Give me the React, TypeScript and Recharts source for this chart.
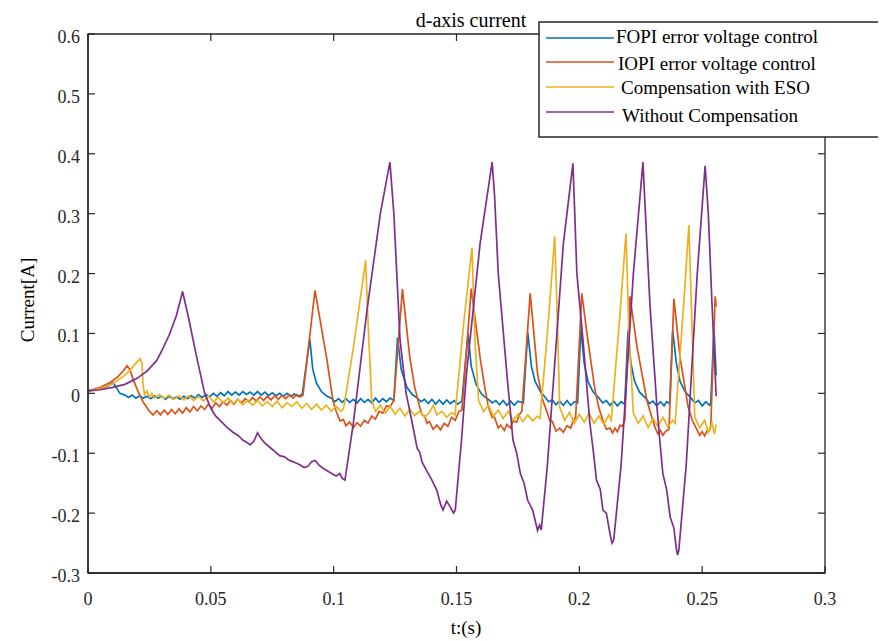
import React from 'react';
import { LineChart, Line, XAxis, YAxis, ReferenceArea } from 'recharts';

// ---- data: [time (s), current (A)] ----
const fopi: [number, number][] = [
  [0, 0.004], [0.004, 0.007], [0.008, 0.012], [0.0102, 0.018], [0.0115, 0.01], [0.013, 0.0],
  [0.015, -0.003], [0.0165, -0.007], [0.018, -0.003], [0.0195, -0.008], [0.021, -0.004], [0.0225, -0.008],
  [0.024, -0.005], [0.0255, -0.009], [0.027, -0.004], [0.0285, -0.008], [0.03, -0.005], [0.0315, -0.01],
  [0.033, -0.005], [0.0345, -0.009], [0.036, -0.006], [0.0375, -0.01], [0.039, -0.005], [0.0405, -0.009],
  [0.042, -0.004], [0.0435, -0.008], [0.045, -0.002], [0.0465, -0.007], [0.048, -0.002], [0.0495, -0.006],
  [0.051, 0.0], [0.0525, -0.005], [0.054, 0.001], [0.0555, -0.004], [0.057, 0.003], [0.0585, -0.003],
  [0.06, 0.002], [0.0615, -0.003], [0.063, 0.003], [0.0645, -0.002], [0.066, 0.002], [0.0675, -0.003],
  [0.069, 0.003], [0.0705, -0.003], [0.072, 0.002], [0.0735, -0.004], [0.075, 0.001], [0.0765, -0.004],
  [0.078, 0.0], [0.0795, -0.005], [0.081, 0.0], [0.0825, -0.005], [0.084, -0.001], [0.0855, -0.005],
  [0.0872, -0.002], [0.0903, 0.09], [0.0915, 0.04], [0.093, 0.017], [0.095, 0.003], [0.097, -0.004],
  [0.099, -0.008], [0.1005, -0.014], [0.102, -0.009], [0.1035, -0.015], [0.105, -0.009], [0.1065, -0.015],
  [0.108, -0.01], [0.1095, -0.016], [0.111, -0.009], [0.1125, -0.015], [0.114, -0.01], [0.1155, -0.016],
  [0.117, -0.008], [0.1185, -0.015], [0.12, -0.009], [0.1215, -0.014], [0.123, -0.008], [0.1245, -0.012],
  [0.126, 0.093], [0.1275, 0.04], [0.1298, 0.01], [0.132, -0.002], [0.134, -0.008], [0.1355, -0.014],
  [0.137, -0.01], [0.1385, -0.017], [0.14, -0.01], [0.1415, -0.018], [0.143, -0.011], [0.1445, -0.018],
  [0.146, -0.011], [0.1475, -0.017], [0.149, -0.012], [0.1505, -0.018], [0.1522, -0.013], [0.1547, 0.1],
  [0.156, 0.045], [0.158, 0.015], [0.16, 0.0], [0.1615, -0.006], [0.163, -0.01], [0.1645, -0.016],
  [0.166, -0.012], [0.1675, -0.019], [0.169, -0.012], [0.1705, -0.02], [0.172, -0.013], [0.1735, -0.02],
  [0.175, -0.013], [0.1772, -0.016], [0.179, 0.102], [0.1805, 0.045], [0.182, 0.02], [0.184, 0.004],
  [0.186, -0.006], [0.1875, -0.014], [0.189, -0.011], [0.1905, -0.019], [0.192, -0.013], [0.1935, -0.02],
  [0.195, -0.012], [0.1965, -0.02], [0.198, -0.014], [0.1993, -0.016], [0.2006, 0.108], [0.202, 0.05],
  [0.2035, 0.02], [0.2055, 0.003], [0.208, -0.008], [0.2095, -0.016], [0.211, -0.012], [0.2125, -0.02],
  [0.214, -0.013], [0.2155, -0.021], [0.217, -0.014], [0.2185, -0.018], [0.2198, 0.105], [0.221, 0.05],
  [0.2225, 0.02], [0.2245, 0.002], [0.227, -0.008], [0.2285, -0.017], [0.23, -0.013], [0.2315, -0.021],
  [0.233, -0.014], [0.2345, -0.021], [0.2355, -0.014], [0.2368, -0.017], [0.238, 0.105], [0.2395, 0.05],
  [0.241, 0.02], [0.243, 0.003], [0.2455, -0.008], [0.247, -0.016], [0.2485, -0.012], [0.25, -0.021],
  [0.2515, -0.014], [0.253, -0.02], [0.2535, -0.016], [0.2548, 0.108], [0.2557, 0.03],
];

const iopi: [number, number][] = [
  [0, 0.004], [0.005, 0.01], [0.009, 0.018], [0.012, 0.027], [0.0145, 0.038], [0.0159, 0.046],
  [0.017, 0.04], [0.0185, 0.022], [0.0204, 0.003], [0.0225, -0.015], [0.025, -0.03], [0.0265, -0.036],
  [0.028, -0.029], [0.0295, -0.036], [0.031, -0.028], [0.0325, -0.035], [0.034, -0.027], [0.0355, -0.034],
  [0.037, -0.026], [0.0385, -0.033], [0.04, -0.024], [0.0415, -0.031], [0.043, -0.022], [0.0445, -0.029],
  [0.046, -0.021], [0.0475, -0.027], [0.049, -0.018], [0.0505, -0.025], [0.052, -0.016], [0.0535, -0.022],
  [0.055, -0.014], [0.0565, -0.02], [0.058, -0.012], [0.0595, -0.018], [0.061, -0.01], [0.0625, -0.016],
  [0.064, -0.009], [0.0655, -0.014], [0.067, -0.007], [0.0685, -0.013], [0.07, -0.006], [0.0715, -0.012],
  [0.073, -0.005], [0.0745, -0.011], [0.076, -0.004], [0.0775, -0.01], [0.079, -0.003], [0.0805, -0.009],
  [0.082, -0.002], [0.0835, -0.008], [0.085, -0.002], [0.0863, -0.006], [0.0875, -0.003], [0.0924, 0.172],
  [0.0973, 0.055], [0.0997, -0.012], [0.101, -0.03], [0.1026, -0.046], [0.104, -0.044], [0.105, -0.054],
  [0.1065, -0.048], [0.108, -0.057], [0.1095, -0.049], [0.111, -0.055], [0.1125, -0.045], [0.114, -0.05],
  [0.1155, -0.038], [0.117, -0.043], [0.1185, -0.03], [0.12, -0.033], [0.1215, -0.021], [0.123, -0.022],
  [0.1245, -0.012], [0.128, 0.174], [0.131, 0.06], [0.133, 0.01], [0.135, -0.023], [0.136, -0.036],
  [0.137, -0.038], [0.138, -0.05], [0.139, -0.047], [0.1405, -0.06], [0.142, -0.053], [0.1435, -0.061],
  [0.145, -0.05], [0.1465, -0.055], [0.148, -0.04], [0.1495, -0.045], [0.151, -0.03], [0.1522, -0.028],
  [0.156, 0.175], [0.1596, 0.06], [0.1615, 0.01], [0.163, -0.023], [0.1645, -0.04], [0.1655, -0.04],
  [0.167, -0.058], [0.168, -0.053], [0.1695, -0.062], [0.1705, -0.052], [0.172, -0.058], [0.173, -0.046],
  [0.1745, -0.048], [0.1755, -0.036], [0.1766, -0.03], [0.18, 0.167], [0.183, 0.033], [0.185, -0.01],
  [0.187, -0.033], [0.188, -0.046], [0.189, -0.047], [0.1905, -0.063], [0.192, -0.058], [0.1935, -0.065],
  [0.195, -0.054], [0.1965, -0.058], [0.1975, -0.046], [0.1985, -0.04], [0.201, 0.167], [0.2035, 0.088],
  [0.2064, 0.005], [0.208, -0.025], [0.2096, -0.045], [0.211, -0.06], [0.2125, -0.058], [0.2135, -0.066],
  [0.2145, -0.058], [0.2155, -0.064], [0.2166, -0.053], [0.2175, -0.055], [0.2185, -0.045], [0.2206, 0.162],
  [0.2235, 0.077], [0.2275, -0.012], [0.2295, -0.04], [0.2308, -0.057], [0.232, -0.068], [0.233, -0.062],
  [0.234, -0.07], [0.235, -0.064], [0.2365, -0.06], [0.2385, 0.158], [0.241, 0.06], [0.2443, -0.023],
  [0.246, -0.045], [0.248, -0.062], [0.249, -0.07], [0.25, -0.064], [0.251, -0.071], [0.252, -0.063],
  [0.253, -0.062], [0.2535, -0.055], [0.2553, 0.162], [0.2557, 0.145],
];

const eso: [number, number][] = [
  [0, 0.004], [0.005, 0.008], [0.01, 0.016], [0.014, 0.027], [0.017, 0.038], [0.019, 0.048],
  [0.0212, 0.058], [0.022, 0.05], [0.0224, 0.015], [0.023, -0.002], [0.024, 0.004], [0.025, -0.006],
  [0.026, 0.0], [0.027, -0.008], [0.029, -0.002], [0.031, -0.009], [0.033, -0.003], [0.035, -0.01],
  [0.037, -0.004], [0.039, -0.011], [0.041, -0.004], [0.043, -0.012], [0.045, -0.005], [0.047, -0.013],
  [0.049, -0.004], [0.051, -0.014], [0.053, -0.007], [0.055, -0.016], [0.057, -0.008], [0.059, -0.018],
  [0.061, -0.01], [0.063, -0.019], [0.065, -0.011], [0.067, -0.02], [0.069, -0.012], [0.071, -0.021],
  [0.073, -0.014], [0.075, -0.022], [0.077, -0.013], [0.079, -0.024], [0.081, -0.016], [0.083, -0.022],
  [0.085, -0.014], [0.087, -0.025], [0.089, -0.017], [0.091, -0.027], [0.093, -0.018], [0.095, -0.028],
  [0.097, -0.02], [0.099, -0.03], [0.101, -0.022], [0.103, -0.03], [0.104, -0.026], [0.108, 0.075],
  [0.113, 0.222], [0.114, 0.117], [0.1155, -0.012], [0.117, -0.03], [0.119, -0.02], [0.121, -0.033],
  [0.123, -0.022], [0.125, -0.035], [0.127, -0.025], [0.129, -0.038], [0.131, -0.027], [0.133, -0.037],
  [0.135, -0.03], [0.137, -0.04], [0.139, -0.032], [0.1405, -0.02], [0.142, -0.036], [0.144, -0.03],
  [0.146, -0.04], [0.148, -0.032], [0.1494, -0.036], [0.153, 0.12], [0.1563, 0.243], [0.1575, 0.088],
  [0.159, -0.012], [0.161, -0.03], [0.163, -0.02], [0.165, -0.038], [0.167, -0.028], [0.169, -0.042],
  [0.171, -0.03], [0.173, -0.045], [0.175, -0.035], [0.177, -0.047], [0.179, -0.036], [0.181, -0.046],
  [0.183, -0.038], [0.184, -0.042], [0.187, 0.1], [0.19, 0.262], [0.1912, 0.1], [0.192, -0.023],
  [0.194, -0.045], [0.196, -0.032], [0.198, -0.05], [0.2, -0.035], [0.202, -0.048], [0.204, -0.033],
  [0.206, -0.05], [0.208, -0.038], [0.21, -0.052], [0.212, -0.036], [0.213, -0.045], [0.2165, 0.13],
  [0.219, 0.267], [0.2202, 0.1], [0.222, -0.033], [0.224, -0.05], [0.226, -0.038], [0.228, -0.057],
  [0.23, -0.042], [0.232, -0.055], [0.234, -0.04], [0.236, -0.056], [0.238, -0.045], [0.239, -0.05],
  [0.2425, 0.15], [0.2446, 0.281], [0.2458, 0.12], [0.247, -0.04], [0.249, -0.058], [0.251, -0.045],
  [0.2525, -0.065], [0.254, -0.05], [0.255, -0.068], [0.2557, -0.052],
];

const withoutComp: [number, number][] = [
  [0, 0.004], [0.005, 0.006], [0.01, 0.01], [0.015, 0.015], [0.02, 0.025], [0.024, 0.037],
  [0.028, 0.055], [0.0305, 0.075], [0.033, 0.097], [0.036, 0.13], [0.0385, 0.17], [0.041, 0.125],
  [0.044, 0.065], [0.0475, 0.0], [0.05, -0.025], [0.052, -0.038], [0.0545, -0.048], [0.0566, -0.057],
  [0.059, -0.065], [0.061, -0.07], [0.063, -0.078], [0.0647, -0.082], [0.066, -0.086], [0.0675, -0.08],
  [0.069, -0.066], [0.0705, -0.076], [0.072, -0.083], [0.074, -0.09], [0.076, -0.097], [0.078, -0.104],
  [0.08, -0.106], [0.082, -0.112], [0.084, -0.115], [0.086, -0.119], [0.088, -0.124], [0.0895, -0.122],
  [0.091, -0.114], [0.0925, -0.112], [0.094, -0.12], [0.096, -0.126], [0.098, -0.131], [0.0997, -0.135],
  [0.101, -0.138], [0.1025, -0.134], [0.1035, -0.142], [0.1046, -0.145], [0.108, -0.05], [0.1136, 0.14],
  [0.119, 0.3], [0.1229, 0.386], [0.1245, 0.3], [0.127, 0.09], [0.1295, 0.0], [0.132, -0.05],
  [0.134, -0.092], [0.135, -0.098], [0.136, -0.115], [0.1385, -0.134], [0.14, -0.145], [0.142, -0.162],
  [0.1435, -0.185], [0.1445, -0.195], [0.146, -0.18], [0.1475, -0.19], [0.1488, -0.2], [0.1495, -0.195],
  [0.152, -0.08], [0.154, 0.03], [0.1596, 0.25], [0.1645, 0.386], [0.1655, 0.33], [0.167, 0.2],
  [0.1705, 0.033], [0.173, -0.078], [0.1745, -0.1], [0.176, -0.134], [0.1775, -0.15], [0.179, -0.179],
  [0.181, -0.195], [0.183, -0.229], [0.1838, -0.22], [0.1845, -0.228], [0.187, -0.12], [0.1935, 0.25],
  [0.1974, 0.384], [0.199, 0.2], [0.2015, 0.088], [0.2043, -0.05], [0.2055, -0.09], [0.207, -0.145],
  [0.2085, -0.16], [0.2096, -0.195], [0.211, -0.2], [0.2125, -0.235], [0.2133, -0.25], [0.214, -0.245],
  [0.217, -0.12], [0.222, 0.2], [0.2259, 0.386], [0.2275, 0.25], [0.2288, 0.144], [0.2316, -0.023],
  [0.233, -0.09], [0.234, -0.134], [0.2355, -0.16], [0.237, -0.207], [0.2385, -0.225], [0.2395, -0.26],
  [0.24, -0.27], [0.2405, -0.262], [0.2435, -0.12], [0.248, 0.2], [0.2512, 0.38], [0.2525, 0.3],
  [0.254, 0.15], [0.2557, -0.005],
];

const xTicks = [0, 0.05, 0.1, 0.15, 0.2, 0.25, 0.3];
const yTicks = [-0.3, -0.2, -0.1, 0, 0.1, 0.2, 0.3, 0.4, 0.5, 0.6];
const xDomain: [number, number] = [0, 0.3];
const yDomain: [number, number] = [-0.3, 0.6];
const seriesNames = [
  'FOPI error voltage control',
  'IOPI error voltage control',
  'Compensation with ESO',
  'Without Compensation',
];
const seriesColors = ['#0072BD', '#D95319', '#EDB120', '#7E2F8E'];
const titleText = 'd-axis current';
const xLabel = 't:(s)';
const yLabel = 'Current[A]';

const FONT = "'Liberation Serif', 'Times New Roman', serif";
const AXIS_COLOR = '#262626';
const TICK_LEN = 7;
const CHART_W = 878;
const CHART_H = 625;
const MARGIN = { top: 26, right: 61, bottom: 0, left: 0 };
const Y_AXIS_W = 80;
const X_AXIS_H = 60;
const PLOT_W = CHART_W - MARGIN.left - MARGIN.right - Y_AXIS_W; // 737
const PLOT_H = CHART_H - MARGIN.top - MARGIN.bottom - X_AXIS_H; // 539

const toRows = (pts: [number, number][]) => pts.map(([t, v]) => ({ t, v }));
const allSeries = [fopi, iopi, eso, withoutComp].map(toRows);

// bottom axis tick: inward tick at bottom + mirrored inward tick at top of the box
const BottomTick = (props: any) => {
  const { x, y, payload } = props;
  return (
    <g>
      <line x1={x} x2={x} y1={y} y2={y - TICK_LEN} stroke={AXIS_COLOR} strokeWidth={1.2} />
      <line x1={x} x2={x} y1={y - PLOT_H} y2={y - PLOT_H + TICK_LEN} stroke={AXIS_COLOR} strokeWidth={1.2} />
      <text x={x} y={y + 32} textAnchor="middle" fontFamily={FONT} fontSize={18} fill={AXIS_COLOR}>
        {String(payload.value)}
      </text>
    </g>
  );
};

// left axis tick: inward tick at left + mirrored inward tick at right of the box
const LeftTick = (props: any) => {
  const { x, y, payload } = props;
  return (
    <g>
      <line x1={x} x2={x + TICK_LEN} y1={y} y2={y} stroke={AXIS_COLOR} strokeWidth={1.2} />
      <line x1={x + PLOT_W} x2={x + PLOT_W - TICK_LEN} y1={y} y2={y} stroke={AXIS_COLOR} strokeWidth={1.2} />
      <text x={x - 8} y={y + 9} textAnchor="end" fontFamily={FONT} fontSize={18} fill={AXIS_COLOR}>
        {String(payload.value)}
      </text>
    </g>
  );
};

// legend layout (relative to the legend box)
const legendRowsLineY = [16, 40, 65, 90];
const legendRowsTextY = [21, 48, 72, 100];
const legendTextX = [77, 79, 82, 83];

export default function App() {
  const axisLine = { stroke: AXIS_COLOR, strokeWidth: 1.3 };
  return (
    <div style={{ position: 'relative', width: 878, height: 633, overflow: 'hidden', background: '#fff' }}>
      <LineChart width={CHART_W} height={CHART_H} margin={MARGIN}>
        <XAxis
          xAxisId="b"
          type="number"
          dataKey="t"
          domain={xDomain}
          ticks={xTicks}
          interval={0}
          allowDataOverflow
          height={X_AXIS_H}
          tickSize={0}
          tickMargin={0}
          tickLine={false}
          tick={BottomTick}
          axisLine={axisLine}
        />
        <YAxis
          yAxisId="l"
          type="number"
          domain={yDomain}
          ticks={yTicks}
          interval={0}
          allowDataOverflow
          width={Y_AXIS_W}
          tickSize={0}
          tickMargin={0}
          tickLine={false}
          tick={LeftTick}
          axisLine={axisLine}
        />
        <ReferenceArea
          xAxisId="b"
          yAxisId="l"
          x1={xDomain[0]}
          x2={xDomain[1]}
          y1={yDomain[0]}
          y2={yDomain[1]}
          fill="none"
          fillOpacity={0}
          stroke={AXIS_COLOR}
          strokeWidth={1.3}
          ifOverflow="visible"
        />
        {allSeries.map((rows, i) => (
          <Line
            key={seriesNames[i]}
            xAxisId="b"
            yAxisId="l"
            data={rows}
            dataKey="v"
            name={seriesNames[i]}
            type="linear"
            stroke={seriesColors[i]}
            strokeWidth={1.7}
            dot={false}
            activeDot={false}
            isAnimationActive={false}
          />
        ))}
      </LineChart>
      <svg
        width={878}
        height={633}
        style={{ position: 'absolute', left: 0, top: 0, pointerEvents: 'none' }}
      >
        <text x={463} y={19} textAnchor="middle" fontFamily={FONT} fontSize={20} fill="#000">
          {titleText}
        </text>
        <text x={458} y={626} textAnchor="middle" fontFamily={FONT} fontSize={19} fill="#000">
          {xLabel}
        </text>
        <text
          x={0}
          y={0}
          transform="translate(26, 292) rotate(-90)"
          textAnchor="middle"
          fontFamily={FONT}
          fontSize={19}
          fill="#000"
        >
          {yLabel}
        </text>
        <g transform="translate(531, 14)">
          <rect x={0} y={0} width={420} height={115} fill="#fff" stroke={AXIS_COLOR} strokeWidth={1.5} />
          {seriesNames.map((name, i) => (
            <g key={name}>
              <line x1={7} x2={75} y1={legendRowsLineY[i]} y2={legendRowsLineY[i]} stroke={seriesColors[i]} strokeWidth={1.5} />
              <text x={legendTextX[i]} y={legendRowsTextY[i]} fontFamily={FONT} fontSize={19} fill="#000">
                {name}
              </text>
            </g>
          ))}
        </g>
      </svg>
    </div>
  );
}
